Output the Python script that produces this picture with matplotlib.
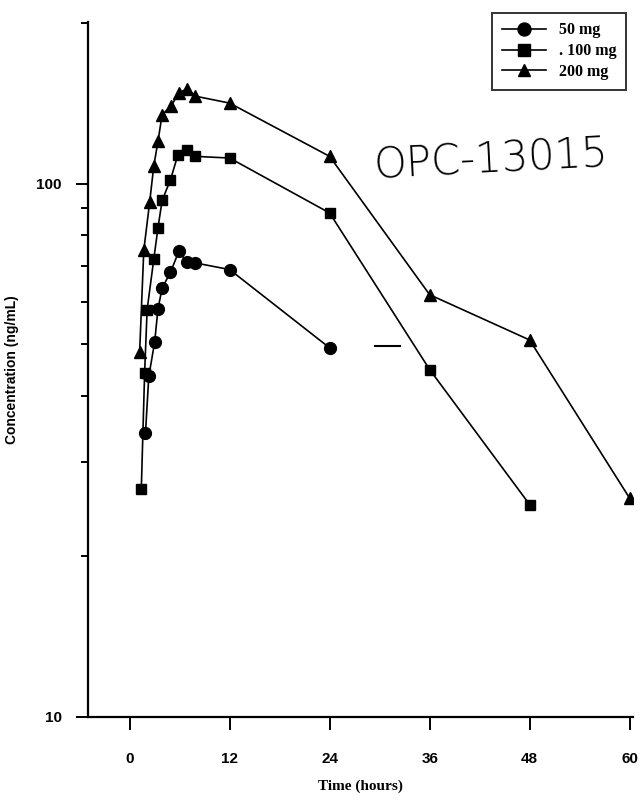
# opc_plot.py  (matplotlib)

import matplotlib
matplotlib.use("Agg")
import matplotlib.pyplot as plt
from matplotlib.ticker import LogLocator, NullFormatter, FixedLocator

# Data
t_50 = [1.9, 2.3, 3.0, 3.4, 3.9, 4.9, 5.9, 6.9, 7.9, 12, 24]
c_50 = [34.0, 43.5, 50.4, 58.2, 63.7, 68.2, 74.6, 71.2, 71.0, 69.0, 49.2]

t_100 = [1.4, 1.8, 2.1, 2.9, 3.4, 3.9, 4.9, 5.8, 6.9, 7.9, 12, 24, 36, 48]
c_100 = [26.7, 44.2, 58.0, 72.2, 82.6, 93.0, 101.7, 113.3, 115.5, 112.5, 111.7, 88.1, 44.8, 25.0]

t_200 = [1.2, 1.7, 2.4, 2.9, 3.4, 3.9, 5.0, 5.9, 6.9, 7.9, 12, 24, 36, 48, 60]
c_200 = [48.3, 75.0, 92.2, 108, 120, 134.7, 140, 148, 150.6, 145.9, 141.6, 112.5, 61.9, 50.9, 25.7]

x_ticks = [0, 12, 24, 36, 48, 60]
series_labels = ["50 mg", ". 100 mg", "200 mg"]

fig = plt.figure(figsize=(6.42, 8.0), dpi=100)
ax = fig.add_axes([0.137, 0.104, 0.849, 0.8685])

ax.plot(t_50, c_50, color="black", lw=1.2, marker="o", ms=8.5, label=series_labels[0])
ax.plot(t_100, c_100, color="black", lw=1.2, marker="s", ms=7.5, label=series_labels[1])
ax.plot(t_200, c_200, color="black", lw=1.2, marker="^", ms=8.5, label=series_labels[2])

ax.set_yscale("log")
ax.set_ylim(10, 201)
ax.set_xlim(-5, 60.4)

ax.xaxis.set_major_locator(FixedLocator(x_ticks))
ax.set_xticklabels([str(v) for v in x_ticks])
ax.yaxis.set_major_locator(FixedLocator([10, 100]))
ax.set_yticklabels(["10", "100"])
ax.yaxis.set_minor_locator(LogLocator(base=10, subs=range(2, 10)))
ax.yaxis.set_minor_formatter(NullFormatter())

for s in ["top", "right"]:
    ax.spines[s].set_visible(False)
for s in ["left", "bottom"]:
    ax.spines[s].set_linewidth(1.6)

ax.tick_params(axis="x", which="major", length=9, width=1.4, pad=16)
ax.tick_params(axis="y", which="major", length=9, width=1.4, pad=10)
ax.tick_params(axis="y", which="minor", length=5, width=1.4)
for lbl in ax.get_xticklabels() + ax.get_yticklabels():
    lbl.set_fontfamily("Liberation Sans")
    lbl.set_fontweight("bold")
    lbl.set_fontsize(11)

ax.set_xlabel("Time (hours)", family="Liberation Serif", weight="bold", fontsize=11, labelpad=10)
ax.set_ylabel("Concentration (ng/mL)", family="Liberation Sans", weight="bold", fontsize=10, labelpad=12)

leg = fig.legend(loc="upper right", bbox_to_anchor=(0.988, 0.994), frameon=True,
                 fancybox=False, edgecolor="black", handlelength=2.8, markerscale=1.1,
                 prop={"family": "Liberation Serif", "weight": "bold", "size": 11.5},
                 borderpad=0.6, labelspacing=0.3)
leg.get_frame().set_linewidth(1.4)

# handwritten note on the scan
fig.text(0.765, 0.80, "OPC-13015", fontsize=30, family="DejaVu Sans",
         weight="light", rotation=3, ha="center", va="center")
ax.plot([29.5, 32.5], [49.5, 49.5], color="black", lw=1.5)

fig.savefig("out.png", dpi=100, facecolor="white")
